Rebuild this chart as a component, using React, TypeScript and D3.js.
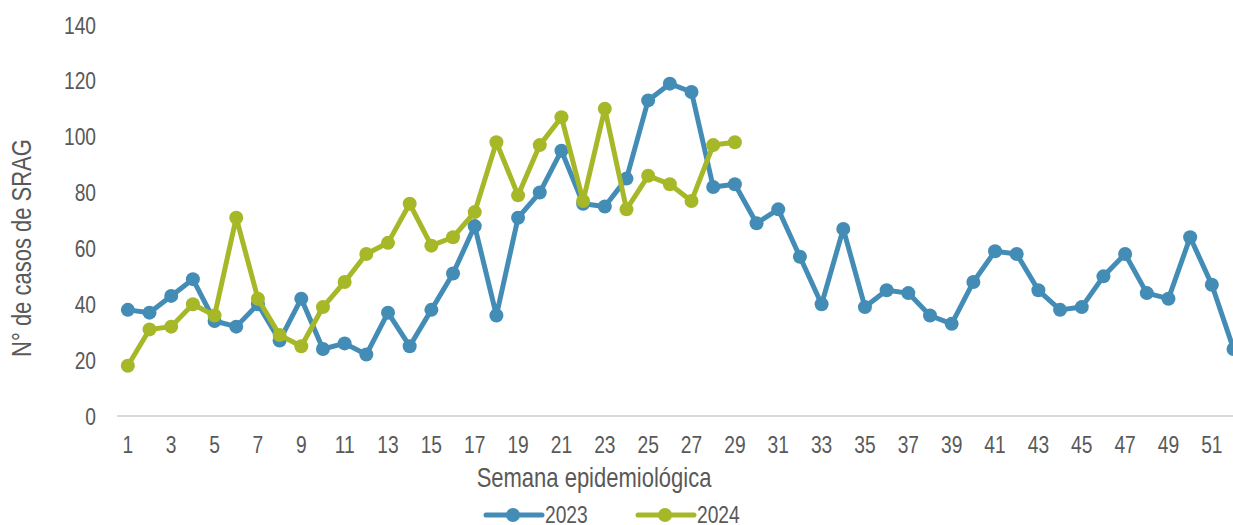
import React from 'react'
import * as d3 from 'd3'

const width = 1233
const height = 525

const weeks = d3.range(1, 53)

const cases2023 = [
  38, 37, 43, 49, 34, 32, 40, 27, 42, 24, 26, 22, 37, 25, 38, 51, 68, 36, 71, 80,
  95, 76, 75, 85, 113, 119, 116, 82, 83, 69, 74, 57, 40, 67, 39, 45, 44, 36, 33, 48,
  59, 58, 45, 38, 39, 50, 58, 44, 42, 64, 47, 24,
]

const cases2024 = [
  18, 31, 32, 40, 36, 71, 42, 29, 25, 39, 48, 58, 62, 76, 61, 64, 73, 98, 79, 97,
  107, 77, 110, 74, 86, 83, 77, 97, 98,
]

const yTicks = [0, 20, 40, 60, 80, 100, 120, 140]

const series = [
  { name: '2023', values: cases2023, color: '#438cb6' },
  { name: '2024', values: cases2024, color: '#a6b828' },
]

const textColor = '#595959'
const font = '"Liberation Sans", Arial, sans-serif'
// no narrow font installed, so squeeze the regular one
const narrow = 0.8

// plot runs past the right edge, the source image was cropped there
const x = d3.scaleBand<number>()
  .domain(weeks)
  .range([117, 117 + 52 * 21.68])
  .padding(0)

const y = d3.scaleLinear().domain([0, 140]).range([416, 25])

const cx = (w: number) => (x(w) ?? 0) + x.bandwidth() / 2

const line = d3.line<number>()
  .x((_, i) => cx(i + 1))
  .y(d => y(d))

const Label = ({ x, y, anchor = 'start', size = 24, rotate = 0, children }: any) => (
  <text
    transform={`translate(${x},${y}) rotate(${rotate}) scale(${narrow},1)`}
    textAnchor={anchor}
    fontSize={size}
    fill={textColor}
  >
    {children}
  </text>
)

export default function App() {
  return (
    <svg
      width={width}
      height={height}
      style={{ position: 'absolute', left: 0, top: 0, background: '#fff', fontFamily: font }}
    >
      {yTicks.map(t => (
        <Label key={t} x={96} y={y(t) + 8.6} anchor="end">{t}</Label>
      ))}
      <line x1={117} x2={width} y1={y(0)} y2={y(0)} stroke="#d9d9d9" strokeWidth={2} />
      {weeks.filter(w => w % 2 === 1).map(w => (
        <Label key={w} x={cx(w)} y={453} anchor="middle">{w}</Label>
      ))}
      <Label x={31} y={248} anchor="middle" size={27.5} rotate={-90}>N° de casos de SRAG</Label>
      <Label x={594} y={487} anchor="middle" size={27.5}>Semana epidemiológica</Label>

      {series.map(s => (
        <g key={s.name}>
          <path d={line(s.values) ?? ''} fill="none" stroke={s.color} strokeWidth={5} strokeLinejoin="round" />
          {s.values.map((v, i) => (
            <circle key={i} cx={cx(i + 1)} cy={y(v)} r={7} fill={s.color} />
          ))}
        </g>
      ))}

      {series.map((s, i) => {
        const lx = 486 + i * 152
        return (
          <g key={s.name} transform={`translate(${lx},515)`}>
            <line x1={0} x2={56} y1={0} y2={0} stroke={s.color} strokeWidth={5} strokeLinecap="round" />
            <circle cx={27} cy={0} r={7} fill={s.color} />
            <Label x={59} y={7.5}>{s.name}</Label>
          </g>
        )
      })}
    </svg>
  )
}
